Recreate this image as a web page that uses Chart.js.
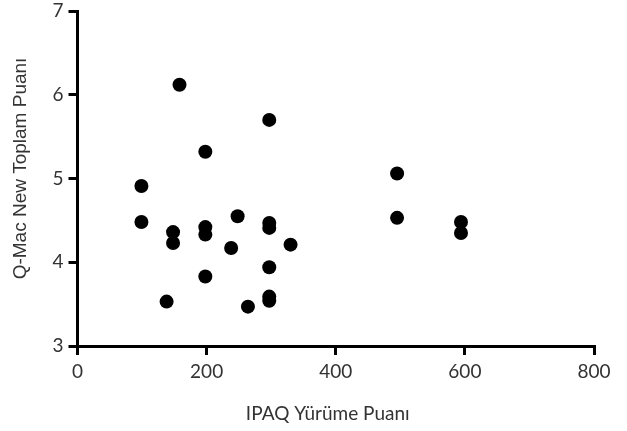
<!DOCTYPE html>
<html>
<head>
<meta charset="utf-8">
<script src="https://cdn.jsdelivr.net/npm/chart.js@4/dist/chart.umd.min.js"></script>
<style>
    html, body { margin: 0; padding: 0; background: #fff; }
    #wrap { width: 627px; height: 431px; }
</style>
</head>
<body>
<div id="wrap"><canvas id="scatterChart" width="627" height="431"></canvas></div>
<script>
// IPAQ walking score (x) vs Q-Mac New total score (y)
const walkScores = [158, 297, 198, 99, 99, 148, 148, 198, 198, 248, 297, 297,
                    238, 330, 297, 198, 138, 264, 297, 297, 495, 495, 594, 594];
const qmacScores = [6.12, 5.70, 5.32, 4.91, 4.48, 4.36, 4.23, 4.42, 4.33, 4.55, 4.47, 4.41,
                    4.17, 4.21, 3.94, 3.83, 3.53, 3.47, 3.59, 3.54, 5.06, 4.53, 4.48, 4.35];
const xTicks = [0, 200, 400, 600, 800];
const yTicks = [3, 4, 5, 6, 7];
const xTitle = 'IPAQ Yürüme Puanı';
const yTitle = 'Q-Mac New Toplam Puanı';

const tickFont = { family: 'Lato', size: 19 };

// axis titles sit a bit toward the origin in the original, so draw them by hand
const axisTitles = {
    id: 'axisTitles',
    afterDraw(chart) {
        const { ctx, chartArea } = chart;
        ctx.save();
        ctx.fillStyle = '#333';
        ctx.textAlign = 'center';
        ctx.textBaseline = 'middle';

        ctx.font = '19px Lato';
        ctx.fillText(xTitle, (chartArea.left + chartArea.right) / 2 - 8, 414);

        ctx.translate(21, (chartArea.top + chartArea.bottom) / 2 - 10);
        ctx.rotate(-Math.PI / 2);
        ctx.font = '19px "Liberation Sans"';
        ctx.fillText(yTitle, 0, 0);
        ctx.restore();
    }
};

function axisLines() {
    return {
        border: { display: true, color: '#000', width: 3 },
        grid: {
            display: true,
            drawOnChartArea: false,
            drawTicks: true,
            tickLength: 9,
            color: '#000',
            lineWidth: 3
        }
    };
}

const points = walkScores.map((x, i) => ({ x: x, y: qmacScores[i] }));

new Chart(document.getElementById('scatterChart').getContext('2d'), {
    type: 'scatter',
    data: {
        datasets: [{
            data: points,
            backgroundColor: '#000',
            borderWidth: 0,
            pointRadius: 7,
            pointHoverRadius: 7
        }]
    },
    options: {
        responsive: false,
        animation: false,
        devicePixelRatio: 1,
        layout: { padding: { top: 11, right: 33, left: 0, bottom: 0 } },
        plugins: {
            legend: { display: false },
            tooltip: { enabled: false }
        },
        scales: {
            x: Object.assign(axisLines(), {
                type: 'linear',
                min: xTicks[0],
                max: xTicks[xTicks.length - 1],
                afterBuildTicks: scale => { scale.ticks = xTicks.map(v => ({ value: v })); },
                afterFit: scale => {
                    scale.height = 85;
                    scale.paddingLeft = 0;
                    scale.paddingRight = 0;
                },
                ticks: { color: '#333', font: tickFont, padding: 5 }
            }),
            y: Object.assign(axisLines(), {
                type: 'linear',
                min: yTicks[0],
                max: yTicks[yTicks.length - 1],
                afterBuildTicks: scale => { scale.ticks = yTicks.map(v => ({ value: v })); },
                afterFit: scale => {
                    scale.width = 77.5;
                    scale.paddingTop = 0;
                    scale.paddingBottom = 0;
                },
                ticks: { color: '#333', font: tickFont, padding: 5 }
            })
        }
    },
    plugins: [axisTitles]
});
</script>
</body>
</html>
